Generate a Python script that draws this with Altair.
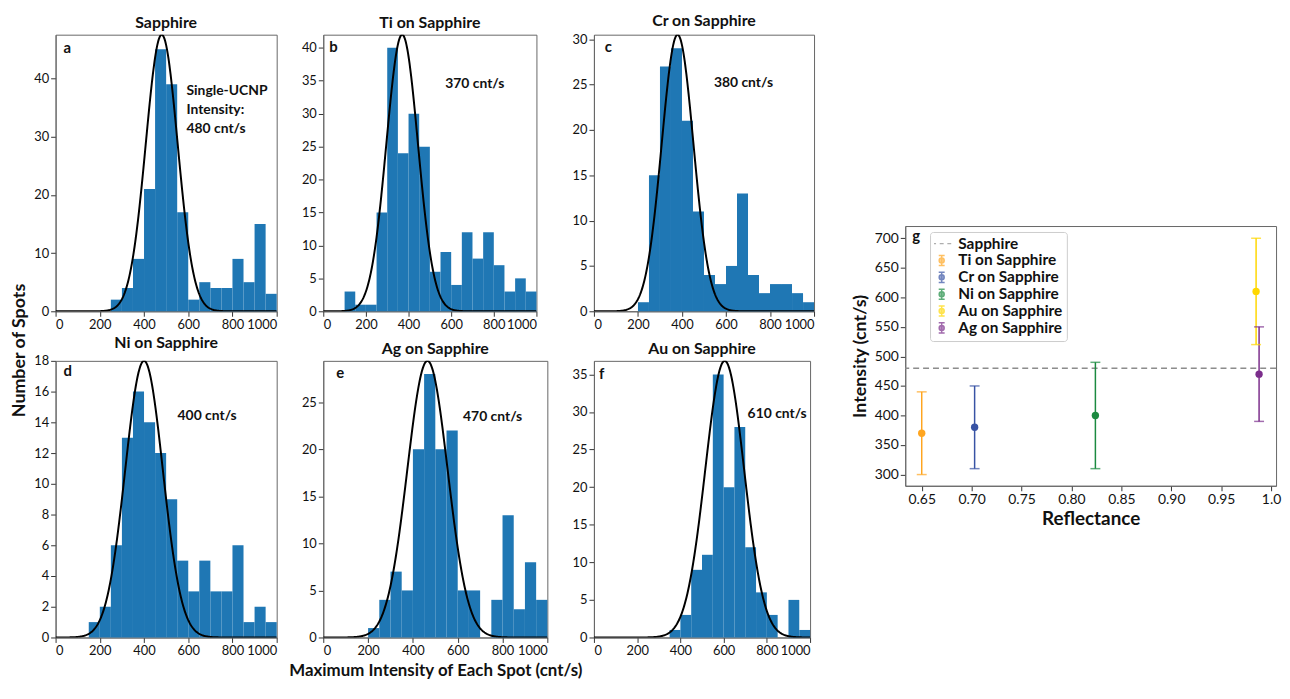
import altair as alt
import numpy as np
import pandas as pd

FONT = "Lato"

# ---------------- data: histograms (bin width 50, 0..1000) ----------------
bin_starts = [0, 50, 100, 150, 200, 250, 300, 350, 400, 450,
              500, 550, 600, 650, 700, 750, 800, 850, 900, 950]
BIN_W = 50

panel_letters = ["a", "b", "c", "d", "e", "f"]
panel_titles = ["Sapphire", "Ti on Sapphire", "Cr on Sapphire",
                "Ni on Sapphire", "Ag on Sapphire", "Au on Sapphire"]

counts_a = [0, 0, 0, 0, 0, 2, 4, 9, 21, 45, 39, 17, 2, 5, 4, 4, 9, 5, 15, 3]
counts_b = [0, 0, 3, 1, 1, 15, 40, 24, 30, 25, 6, 9, 4, 12, 8, 12, 7, 3, 5, 3]
counts_c = [0, 0, 0, 0, 1, 15, 27, 29, 21, 11, 4, 3, 5, 13, 4, 2, 3, 3, 2, 1]
counts_d = [0, 0, 0, 1, 2, 6, 13, 16, 14, 12, 9, 5, 3, 5, 3, 3, 6, 1, 2, 1]
counts_e = [0, 0, 0, 0, 1, 4, 7, 5, 20, 28, 20, 22, 5, 5, 0, 4, 13, 3, 8, 4]
counts_f = [0, 0, 0, 0, 0, 0, 0, 1, 3, 9, 11, 35, 20, 28, 12, 6, 3, 0, 5, 1]
all_counts = [counts_a, counts_b, counts_c, counts_d, counts_e, counts_f]

# Gaussian fit parameters (mean, sigma, peak height)
fit_mean = [480, 370, 380, 400, 465, 605]
fit_sigma = [72, 74, 72, 85, 90, 90]
fit_peak = [47.5, 42, 30.5, 18, 29.4, 36.8]

y_max = [47.5, 42, 30.5, 18, 29.4, 36.8]
y_ticks = [
    [0, 10, 20, 30, 40],
    [0, 5, 10, 15, 20, 25, 30, 35, 40],
    [0, 5, 10, 15, 20, 25, 30],
    [0, 2, 4, 6, 8, 10, 12, 14, 16, 18],
    [0, 5, 10, 15, 20, 25],
    [0, 5, 10, 15, 20, 25, 30, 35],
]
x_ticks = [0, 200, 400, 600, 800, 1000]

annotations = [
    "Single-UCNP\nIntensity:\n480 cnt/s",
    "370 cnt/s",
    "380 cnt/s",
    "400 cnt/s",
    "470 cnt/s",
    "610 cnt/s",
]

# ---------------- data: panel g ----------------
g_names = ["Ti on Sapphire", "Cr on Sapphire", "Ni on Sapphire",
           "Au on Sapphire", "Ag on Sapphire"]
g_reflectance = [0.650, 0.703, 0.824, 0.985, 0.988]
g_intensity = [370, 380, 400, 610, 470]
g_low = [300, 310, 310, 520, 390]
g_high = [440, 450, 490, 700, 550]
sapphire_level = [480]
g_x_ticks = [0.65, 0.70, 0.75, 0.80, 0.85, 0.90, 0.95, 1.00]
g_y_ticks = [300, 350, 400, 450, 500, 550, 600, 650, 700]

# ---------------- styles / layout ----------------
panel_widths = [223, 215, 222, 223, 226, 218]
PANEL_H = 279
ROW_GAP = 50
letter_pos = [(8, 18), (6, 17), (11, 17), (8, 15), (13, 17), (5, 18)]
annot_pos = [(132, 61), (123, 54), (121, 53), (123, 60), (141, 61), (155, 58)]

BAR_COLOR = "#1f77b4"
FRAME = "#666666"
g_colors = ["#FFA51F", "#3853A4", "#1B8A40", "#FFD700", "#7B2D8B"]
SAPPHIRE_GRAY = "#8c8c8c"

ERR_SYMBOL = ("M-0.5,-0.85H0.5M0,-0.85V0.85M-0.5,0.85H0.5"
              "M0.42,0A0.42,0.42,0,1,1,-0.42,0A0.42,0.42,0,1,1,0.42,0Z")
DASH_SYMBOL = "M-1.6,0H-0.95M-0.33,0H0.33M0.95,0H1.6"

G_WIDTH, G_HEIGHT = 374, 262
SPACER_H = 191
OUTER_SPACING = 36
# legend is placed in root coordinates (origin = top-left of panel a's plot)
LEGEND_X = 882
LEGEND_Y = 199


def hist_panel(i):
    df = pd.DataFrame({
        "start": bin_starts,
        "end": [s + BIN_W for s in bin_starts],
        "count": all_counts[i],
    })
    xs = np.linspace(0, 1000, 401)
    curve = pd.DataFrame({
        "start": xs,
        "count": fit_peak[i] * np.exp(-0.5 * ((xs - fit_mean[i]) / fit_sigma[i]) ** 2),
    })

    x_axis_kw = dict(values=x_ticks, format="d", grid=False, labelFont=FONT,
                     labelFontSize=13, labelColor="#111111", tickColor="#333333",
                     tickSize=5, labelPadding=2, domainColor=FRAME)
    if i == 4:
        x_axis = alt.Axis(title="Maximum Intensity of Each Spot (cnt/s)",
                          titleFont=FONT, titleFontSize=17, titleFontWeight="bold",
                          titleColor="#111111", titleY=25, titleBaseline="top",
                          **x_axis_kw)
    else:
        x_axis = alt.Axis(title=None, **x_axis_kw)

    y_axis_kw = dict(values=y_ticks[i], format="d", grid=False, labelFont=FONT,
                     labelFontSize=13, labelColor="#111111", tickColor="#333333",
                     tickSize=5, labelPadding=2, domainColor=FRAME)
    if i == 0:
        y_axis = alt.Axis(title="Number of Spots", titleFont=FONT, titleFontSize=18,
                          titleFontWeight="bold", titleColor="#111111",
                          titleX=-27, titleY=318, titleBaseline="bottom", **y_axis_kw)
    else:
        y_axis = alt.Axis(title=None, **y_axis_kw)

    xsc = alt.Scale(domain=[0, 1000], nice=False, zero=False)
    ysc = alt.Scale(domain=[0, y_max[i]], nice=False)

    bars = alt.Chart(df).mark_bar(color=BAR_COLOR).encode(
        x=alt.X("start:Q", scale=xsc, axis=x_axis),
        x2="end:Q",
        y=alt.Y("count:Q", scale=ysc, axis=y_axis),
        y2=alt.datum(0),
    )
    line = alt.Chart(curve).mark_line(color="black", strokeWidth=2, clip=True).encode(
        x=alt.X("start:Q", scale=xsc, axis=x_axis),
        y=alt.Y("count:Q", scale=ysc, axis=y_axis),
    )
    lx, ly = letter_pos[i]
    letter = alt.Chart(pd.DataFrame({"t": [panel_letters[i]]})).mark_text(
        font=FONT, fontSize=15, fontWeight="bold", color="#111111",
        align="left", baseline="alphabetic",
    ).encode(x=alt.value(lx), y=alt.value(ly), text="t:N")
    ax, ay = annot_pos[i]
    note = alt.Chart(pd.DataFrame({"t": [annotations[i]]})).mark_text(
        font=FONT, fontSize=14, fontWeight="bold", color="#111111",
        align="left", baseline="alphabetic", lineBreak="\n", lineHeight=19,
    ).encode(x=alt.value(ax), y=alt.value(ay), text="t:N")

    return alt.layer(bars, line, letter, note).properties(
        width=panel_widths[i], height=PANEL_H,
        title=alt.TitleParams(panel_titles[i], font=FONT, fontSize=16,
                              fontWeight="bold", color="#111111", offset=4),
    )


panels = [hist_panel(i) for i in range(6)]
left = alt.concat(*panels, columns=3, align="none", bounds="flush",
                  spacing={"row": ROW_GAP, "column": 47})

# ---------------- panel g ----------------
gdf = pd.DataFrame({"name": g_names, "refl": g_reflectance, "inten": g_intensity,
                    "lo": g_low, "hi": g_high})
sdf = pd.DataFrame({"inten": sapphire_level})
legend_names = ["Sapphire"] + g_names
ldf = pd.DataFrame({"name": legend_names})

gx_scale = alt.Scale(domain=[0.6335, 1.005], nice=False, zero=False)
gy_scale = alt.Scale(domain=[281, 720.7], nice=False, zero=False)
gx_axis = alt.Axis(values=g_x_ticks, grid=False, title="Reflectance",
                   labelExpr="datum.value >= 0.999 ? '1.0' : format(datum.value, '.2f')",
                   labelFont=FONT, labelFontSize=14, labelColor="#111111",
                   tickColor="#333333", tickSize=5, labelPadding=2, domainColor=FRAME,
                   titleFont=FONT, titleFontSize=19, titleFontWeight="bold",
                   titleColor="#111111", titleY=24, titleBaseline="top")
gy_axis = alt.Axis(values=g_y_ticks, grid=False, title="Intensity (cnt/s)",
                   labelFont=FONT, labelFontSize=14, labelColor="#111111",
                   tickColor="#333333", tickSize=5, labelPadding=2, domainColor=FRAME,
                   titleFont=FONT, titleFontSize=18, titleFontWeight="bold",
                   titleColor="#111111", titleX=-36, titleBaseline="bottom")


def GX():
    return alt.X("refl:Q", scale=gx_scale, axis=gx_axis)


def GY(field):
    return alt.Y(f"{field}:Q", scale=gy_scale, axis=gy_axis)


col = alt.Color("name:N", scale=alt.Scale(domain=g_names, range=g_colors), legend=None)

ref_line = alt.Chart(sdf).mark_rule(color=SAPPHIRE_GRAY, strokeWidth=1.5,
                                    strokeDash=[6, 4]).encode(y=GY("inten"))
err = alt.Chart(gdf).mark_rule(strokeWidth=1.5).encode(
    x=GX(), y=GY("lo"), y2="hi:Q", color=col)
cap_lo = alt.Chart(gdf).mark_tick(orient="horizontal", size=10, thickness=1.5).encode(
    x=GX(), y=GY("lo"), color=col)
cap_hi = alt.Chart(gdf).mark_tick(orient="horizontal", size=10, thickness=1.5).encode(
    x=GX(), y=GY("hi"), color=col)
pts = alt.Chart(gdf).mark_circle(size=55, opacity=1).encode(
    x=GX(), y=GY("inten"), color=col)

leg = alt.Legend(title=None, orient="none", legendX=LEGEND_X, legendY=LEGEND_Y,
                 labelFont=FONT, labelFontSize=15.5, labelFontWeight="bold",
                 labelColor="#111111", symbolSize=144, symbolStrokeWidth=1.5,
                 fillColor="white", strokeColor="#cccccc", cornerRadius=3,
                 padding=4, rowPadding=0, clipHeight=15.5, labelOffset=9)
leg_colors = [SAPPHIRE_GRAY] + g_colors
leg_shapes = [DASH_SYMBOL] + [ERR_SYMBOL] * 5
# legend-only layer: sits underneath the legend box
legend_layer = alt.Chart(ldf).mark_point(filled=True).encode(
    x=alt.value(90), y=alt.value(50),
    fill=alt.Fill("name:N", scale=alt.Scale(domain=legend_names, range=leg_colors), legend=leg),
    stroke=alt.Stroke("name:N", scale=alt.Scale(domain=legend_names, range=leg_colors), legend=leg),
    shape=alt.Shape("name:N", scale=alt.Scale(domain=legend_names, range=leg_shapes), legend=leg),
)
g_letter = alt.Chart(pd.DataFrame({"t": ["g"]})).mark_text(
    font=FONT, fontSize=15, fontWeight="bold", color="#111111",
    align="left", baseline="alphabetic",
).encode(x=alt.value(7), y=alt.value(15), text="t:N")

g_panel = alt.layer(legend_layer, ref_line, err, cap_lo, cap_hi, pts, g_letter).properties(
    width=G_WIDTH, height=G_HEIGHT)

spacer = alt.Chart(pd.DataFrame({"v": [0]})).mark_point(opacity=0, size=1).encode(
    x=alt.value(0), y=alt.value(100)
).properties(width=1, height=SPACER_H, view=alt.ViewBackground(stroke="transparent"))

right = alt.vconcat(spacer, g_panel, spacing=0)

chart = alt.hconcat(left, right, spacing=OUTER_SPACING).properties(
    padding={"left": 2, "right": 0, "top": 2, "bottom": 0}, background="white"
).configure_view(stroke=FRAME, strokeWidth=1)

chart.save("out.html", embed_options={"renderer": "svg", "actions": False})
